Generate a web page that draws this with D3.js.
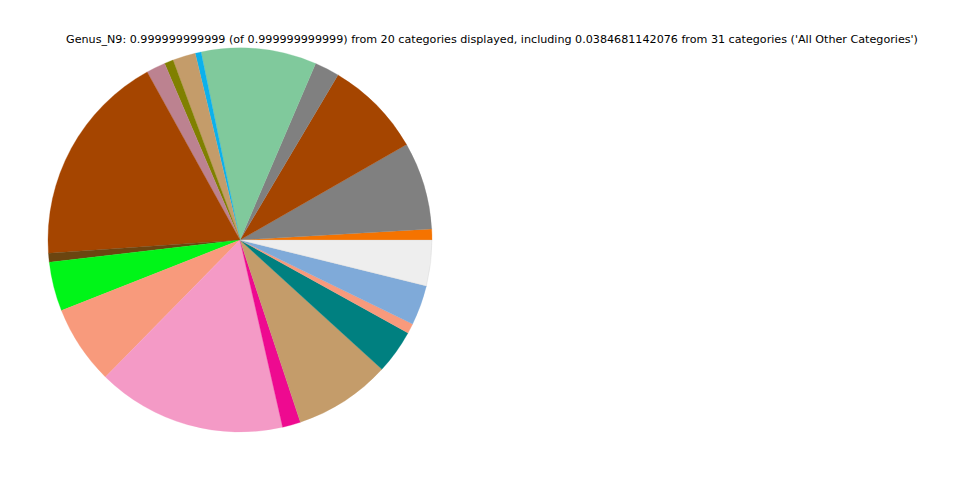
<!DOCTYPE html>
<html><head><meta charset="utf-8">
<script src="https://cdn.jsdelivr.net/npm/d3@7"></script>
<style>body{margin:0;background:#fff}</style>
</head><body>
<svg id="chart" width="960" height="480"></svg>
<script>
const titleText = "Genus_N9: 0.999999999999 (of 0.999999999999) from 20 categories displayed, including 0.0384681142076 from 31 categories ('All Other Categories')";
const categories = ["Cat01","Cat02","Cat03","Cat04","Cat05","Cat06","Cat07","Cat08","Cat09","Cat10",
  "Cat11","Cat12","Cat13","Cat14","Cat15","Cat16","Cat17","Cat18","Cat19","All Other Categories"];
const values = [0.0092,0.0736,0.0819,0.0208,0.0969,0.0050,0.0192,0.0075,0.0161,0.1806,
  0.0075,0.0414,0.0664,0.1592,0.0153,0.0814,0.0372,0.0083,0.0336,0.0384681142076];
const colors = ["#f57300","#808080","#a54500","#808080","#80c99c","#0cb1eb","#c49c6a","#808000","#bc8290","#a54500",
  "#6b4510","#00f518","#f89a7c","#f49ac6","#ee0a90","#c49c6a","#008080","#f89a7c","#7faad9","#eeeeee"];

const svg = d3.select("#chart");
const cx = 240, cy = 240, r = 192;
const total = d3.sum(values);
// matplotlib: start at 3 o'clock, counterclockwise
const angle = d3.scaleLinear().domain([0, total]).range([Math.PI/2, Math.PI/2 - 2*Math.PI]);
let cum = 0;
const slices = values.map((v,i)=>{const s={i, a0: angle(cum), a1: angle(cum+v)}; cum+=v; return s;});
const arc = d3.arc().innerRadius(0).outerRadius(r);
svg.append("g").attr("transform",`translate(${cx},${cy})`)
  .selectAll("path").data(slices).join("path")
  .attr("d", d=>arc({startAngle: d.a1, endAngle: d.a0}))
  .attr("fill", d=>colors[d.i])
  .attr("stroke", d=>d.i===19 ? "#cccccc" : colors[d.i]).attr("stroke-width",0.3);
svg.append("text").attr("x",492).attr("y",43).attr("text-anchor","middle")
  .style("font-family","DejaVu Sans").style("font-size","11.15px").attr("fill","#000")
  .text(titleText);
</script>
</body></html>
